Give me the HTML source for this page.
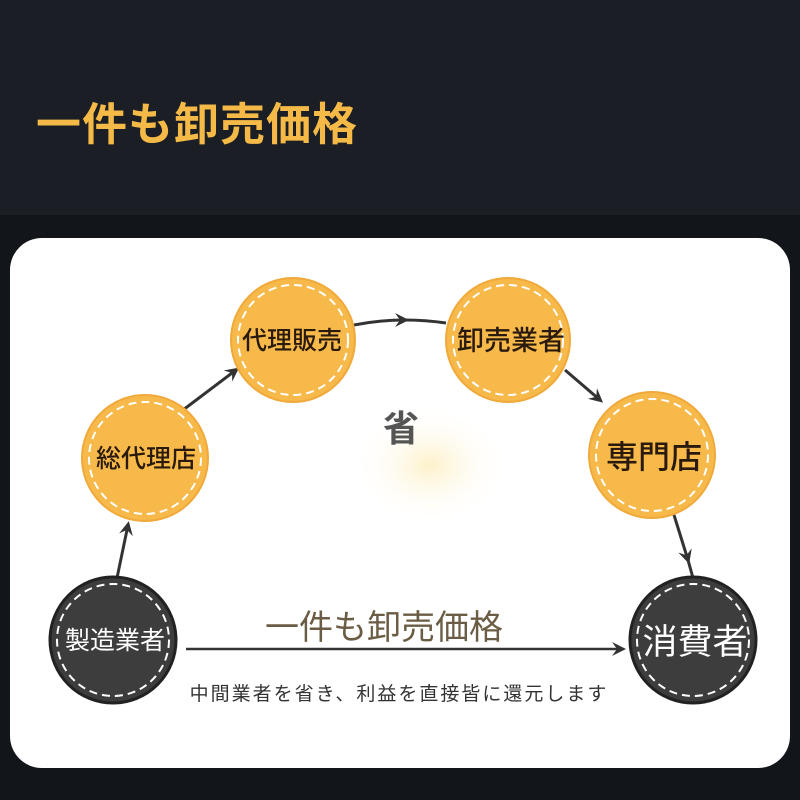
<!DOCTYPE html>
<html><head><meta charset="utf-8"><style>
body{margin:0;width:800px;height:800px;overflow:hidden;background:#12151a;font-family:"Liberation Sans","Noto Sans CJK JP",sans-serif;position:relative}
.top{position:absolute;left:0;top:0;width:800px;height:215px;background:#1b1e24}
.title{position:absolute;left:36px;top:88px;font-size:45px;font-weight:bold;color:#f5b948;letter-spacing:1px;white-space:nowrap}
.card{position:absolute;left:10px;top:238px;width:780px;height:530px;background:#fff;border-radius:32px}
svg{position:absolute;left:0;top:0}
</style></head><body>
<div class="top"></div>
<div class="title">一件も卸売価格</div>
<div class="card"></div>
<svg width="800" height="800" viewBox="0 0 800 800">
<defs>
<radialGradient id="glow"><stop offset="0" stop-color="#fdf0c4" stop-opacity="0.9"/><stop offset="1" stop-color="#fff" stop-opacity="0"/></radialGradient>
<marker id="ar" markerWidth="14" markerHeight="14" refX="10" refY="7" orient="auto" markerUnits="userSpaceOnUse"><path d="M0,0 L14,7 L0,14 L5,7 Z" fill="#333"/></marker>
</defs>
<ellipse cx="430" cy="465" rx="80" ry="60" fill="url(#glow)"/>
<g stroke="#333" stroke-width="3" fill="none">
<path d="M117,578 L128,525" marker-end="url(#ar)"/>
<path d="M183,410 L236,370" marker-end="url(#ar)"/>
<path d="M354,325 Q380,320 405,320" marker-end="url(#ar)"/>
<path d="M405,320 Q425,320 446,323"/>
<path d="M565,370 L600,400" marker-end="url(#ar)"/>
<path d="M674,515 L688,560" marker-end="url(#ar)"/>
<path d="M688,560 L693,578"/>
<path d="M186,649 L622,649" stroke-width="2.5" marker-end="url(#ar)"/>
</g>
<g font-family="Liberation Sans,Noto Sans CJK JP,sans-serif" text-anchor="middle">
<g fill="#f6b94a" stroke="#f0a93a" stroke-width="2">
<circle cx="145" cy="458" r="63"/><circle cx="293" cy="340" r="62"/><circle cx="508" cy="340" r="62"/><circle cx="652" cy="455" r="63"/>
</g>
<g fill="#3d3d3d" stroke="#222" stroke-width="3">
<circle cx="113" cy="640" r="63"/><circle cx="693" cy="640" r="63"/>
</g>
<g fill="none" stroke="#fff" stroke-width="2" stroke-dasharray="8 5">
<circle cx="145" cy="458" r="56"/><circle cx="293" cy="340" r="55"/><circle cx="508" cy="340" r="55"/><circle cx="652" cy="455" r="56"/>
<circle cx="113" cy="640" r="56"/><circle cx="693" cy="640" r="56"/>
</g>
<g fill="#2a1a0e" font-weight="500">
<text x="146" y="467" font-size="25">総代理店</text><text x="292" y="349" font-size="25">代理販売</text><text x="511" y="350" font-size="27">卸売業者</text>
<text x="654" y="468" font-size="32">専門店</text>
</g>
<text x="115" y="649" fill="#fff" font-size="25">製造業者</text>
<text x="695" y="654" fill="#fff" font-size="35">消費者</text>
<text x="401" y="441" fill="#555" font-size="36" font-weight="bold">省</text>
<text x="384" y="639" fill="#6b5d45" font-size="34">一件も卸売価格</text>
<text x="399" y="700" fill="#333" font-size="19" letter-spacing="2">中間業者を省き、利益を直接皆に還元します</text>
</g>
</svg>
</body></html>
